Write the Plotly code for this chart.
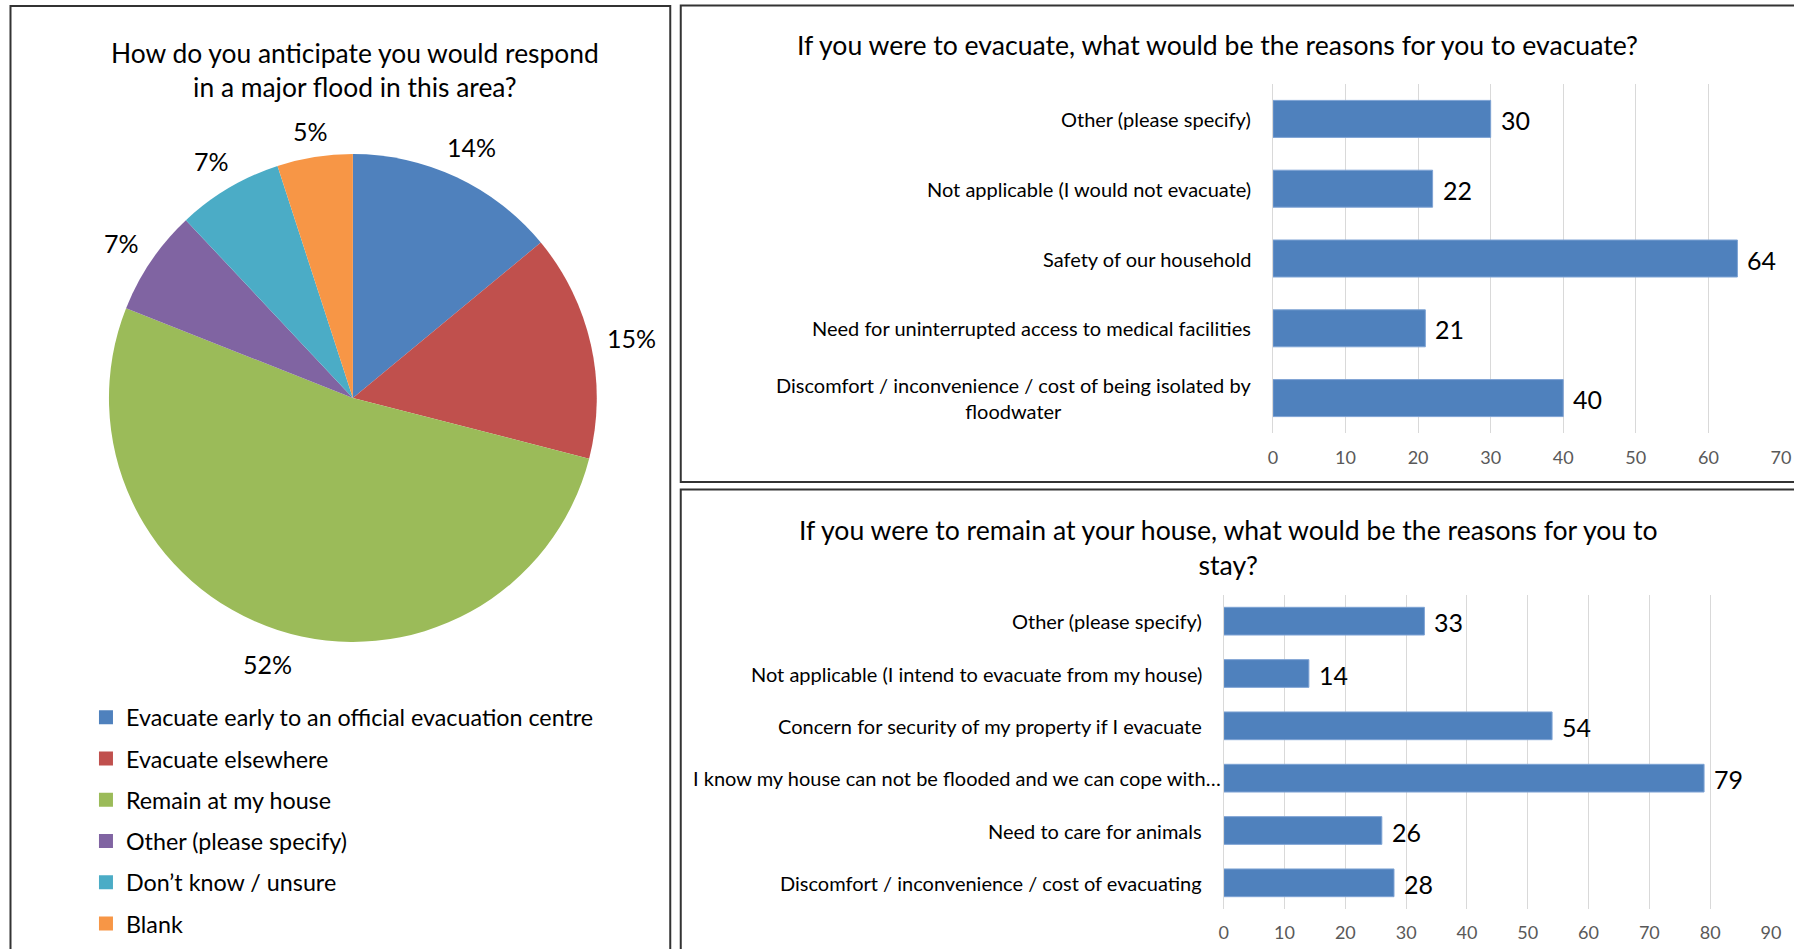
import math
import plotly.graph_objects as go

W, H = 1794, 949
FONT = "Lato"

# --- Pie: anticipated response in a major flood ---
resp_labels = [
    "Evacuate early to an official evacuation centre",
    "Evacuate elsewhere",
    "Remain at my house",
    "Other (please specify)",
    "Don’t know / unsure",
    "Blank",
]
resp_pct = [14, 15, 52, 7, 7, 5]
resp_colors = ["#4F81BD", "#C0504D", "#9BBB59", "#8064A2", "#4BACC6", "#F79646"]

# --- Bars: reasons to evacuate ---
evac_reasons = [
    "Other (please specify)",
    "Not applicable (I would not evacuate)",
    "Safety of our household",
    "Need for uninterrupted access to medical facilities",
    "Discomfort / inconvenience / cost of being isolated by<br>floodwater",
]
evac_counts = [30, 22, 64, 21, 40]
evac_ticks = [0, 10, 20, 30, 40, 50, 60, 70]

# --- Bars: reasons to stay ---
stay_reasons = [
    "Other (please specify)",
    "Not applicable (I intend to evacuate from my house)",
    "Concern for security of my property if I evacuate",
    "I know my house can not be flooded and we can cope with…",
    "Need to care for animals",
    "Discomfort / inconvenience / cost of evacuating",
]
stay_counts = [33, 14, 54, 79, 26, 28]
stay_ticks = [0, 10, 20, 30, 40, 50, 60, 70, 80, 90]

BAR = "#4F81BD"
GRID = "#D9D9D9"
TICK = "#595959"

# horizontal page mapping (on-screen px -> layout px)
SX, OX = 0.992, 4.0


def px_x(v):
    return (v - OX) / SX / W


def px_y(v):
    return 1 - v / H


fig = go.Figure()

# pie geometry (on-screen pixels)
cx, cy, r = 352, 398, 244

fig.add_trace(go.Pie(
    labels=resp_labels,
    values=resp_pct,
    marker=dict(colors=resp_colors, line=dict(width=0)),
    sort=False,
    direction="clockwise",
    rotation=0,
    textinfo="none",
    hoverinfo="label+percent",
    showlegend=False,
    domain=dict(x=[px_x(cx - r), px_x(cx + r)],
                y=[px_y(cy + r), px_y(cy - r)]),
))

# legend entries for the pie slices (kept on their own hidden axes)
for lab, col in zip(resp_labels, resp_colors):
    fig.add_trace(go.Scatter(
        x=[None], y=[None], mode="markers", name=lab, legendgroup=lab,
        marker=dict(symbol="square", size=14, color=col),
        xaxis="x3", yaxis="y3", hoverinfo="skip",
    ))

# evacuate bars
fig.add_trace(go.Bar(
    x=evac_counts, y=evac_reasons, orientation="h",
    marker=dict(color=BAR, line=dict(color="#7EA3D4", width=1)),
    xaxis="x", yaxis="y", showlegend=False,
))

# stay bars
fig.add_trace(go.Bar(
    x=stay_counts, y=stay_reasons, orientation="h",
    marker=dict(color=BAR, line=dict(color="#7EA3D4", width=1)),
    xaxis="x2", yaxis="y2", showlegend=False,
))

annotations = []

# pie percentage labels: each text box sits just outside the rim,
# touching a circle of radius r + gap along the slice's mid angle
PIE_FS = 25
LABEL_GAP = 16
cum = 0
total = sum(resp_pct)
for p in resp_pct:
    mid = (cum + p / 2) / total * 2 * math.pi
    cum += p
    s, c = math.sin(mid), math.cos(mid)
    txt = f"{p}%"
    half_w = 0.5 * PIE_FS * (0.58 * (len(txt) - 1) + 0.8)
    half_h = 10
    dist = r + LABEL_GAP + half_w * abs(s) + half_h * abs(c)
    annotations.append(dict(
        x=px_x(cx + dist * s), y=px_y(cy - dist * c), xref="paper", yref="paper",
        text=txt, showarrow=False, xanchor="center", yanchor="middle", yshift=-2,
        font=dict(family=FONT, size=PIE_FS, color="#000000"),
    ))

# category labels and value labels for both bar charts
for reasons, counts, xa, ya in [(evac_reasons, evac_counts, "x", "y"),
                                (stay_reasons, stay_counts, "x2", "y2")]:
    for lab, v in zip(reasons, counts):
        # truncated labels run a little further towards the axis
        shift = -20 + (19 if lab.endswith("…") else 0)
        annotations.append(dict(
            x=0, y=lab, xref=f"{xa} domain", yref=ya, text=lab,
            showarrow=False, xanchor="right", yanchor="middle", align="center",
            xshift=shift, font=dict(family=FONT, size=20, color="#000000"),
        ))
        annotations.append(dict(
            x=v, y=lab, xref=xa, yref=ya, text=str(v),
            showarrow=False, xanchor="left", yanchor="middle", xshift=8, yshift=-1,
            font=dict(family=FONT, size=25, color="#000000"),
        ))

# chart titles
annotations += [
    dict(x=px_x(354), y=px_y(70.5), xref="paper", yref="paper",
         text="How do you anticipate you would respond<br>in a major flood in this area?",
         showarrow=False, xanchor="center", yanchor="middle", align="center",
         font=dict(family=FONT, size=26.4, color="#000000")),
    dict(x=px_x(1217), y=px_y(45), xref="paper", yref="paper",
         text="If you were to evacuate, what would be the reasons for you to evacuate?",
         showarrow=False, xanchor="center", yanchor="middle",
         font=dict(family=FONT, size=26.6, color="#000000")),
    dict(x=px_x(1227), y=px_y(547), xref="paper", yref="paper",
         text="If you were to remain at your house, what would be the reasons for you to<br>stay?",
         showarrow=False, xanchor="center", yanchor="middle", align="center",
         font=dict(family=FONT, size=26.6, color="#000000")),
]

# panel frames
LINE = dict(color="#333333", width=2)
shapes = [
    dict(type="rect", xref="paper", yref="paper", x0=px_x(9.5), x1=px_x(669.5),
         y0=-0.05, y1=px_y(6), line=LINE),
    dict(type="rect", xref="paper", yref="paper", x0=px_x(680), x1=1.05,
         y0=px_y(482), y1=px_y(5.5), line=LINE),
    dict(type="rect", xref="paper", yref="paper", x0=px_x(680), x1=1.05,
         y0=-0.05, y1=px_y(489.5), line=LINE),
]

axis_common = dict(
    type="linear", showgrid=True, gridcolor=GRID, gridwidth=1, zeroline=False,
    ticks="", showline=False, fixedrange=True,
    tickfont=dict(family=FONT, size=18, color=TICK),
)
cat_common = dict(
    type="category", showticklabels=False, showgrid=False, zeroline=False, ticks="",
    showline=True, linecolor=GRID, linewidth=1, fixedrange=True,
)

fig.update_layout(
    width=W, height=H,
    margin=dict(l=0, r=0, t=0, b=0),
    paper_bgcolor="white", plot_bgcolor="white",
    font=dict(family=FONT, color="#000000"),
    bargap=0.47,
    xaxis=dict(domain=[px_x(1272.4), px_x(1780.6)], range=[0, 70],
               tickvals=evac_ticks, anchor="y", ticklabelstandoff=12, **axis_common),
    yaxis=dict(domain=[px_y(433), px_y(84)], anchor="x",
               categoryorder="array", categoryarray=evac_reasons[::-1], **cat_common),
    xaxis2=dict(domain=[px_x(1223.2), px_x(1770.6)], range=[0, 90],
                tickvals=stay_ticks, anchor="y2", ticklabelstandoff=11, **axis_common),
    yaxis2=dict(domain=[px_y(909), px_y(595)], anchor="x2",
                categoryorder="array", categoryarray=stay_reasons[::-1], **cat_common),
    xaxis3=dict(domain=[0, 0.01], visible=False, anchor="y3", range=[0, 1]),
    yaxis3=dict(domain=[0, 0.01], visible=False, anchor="x3", range=[0, 1]),
    legend=dict(
        x=px_x(85), y=px_y(695.5), xanchor="left", yanchor="top",
        font=dict(family=FONT, size=23.3, color="#000000"),
        tracegroupgap=8, itemsizing="trace", bgcolor="rgba(0,0,0,0)",
        traceorder="grouped",
    ),
    annotations=annotations,
    shapes=shapes,
)

fig.write_html("out.html")
